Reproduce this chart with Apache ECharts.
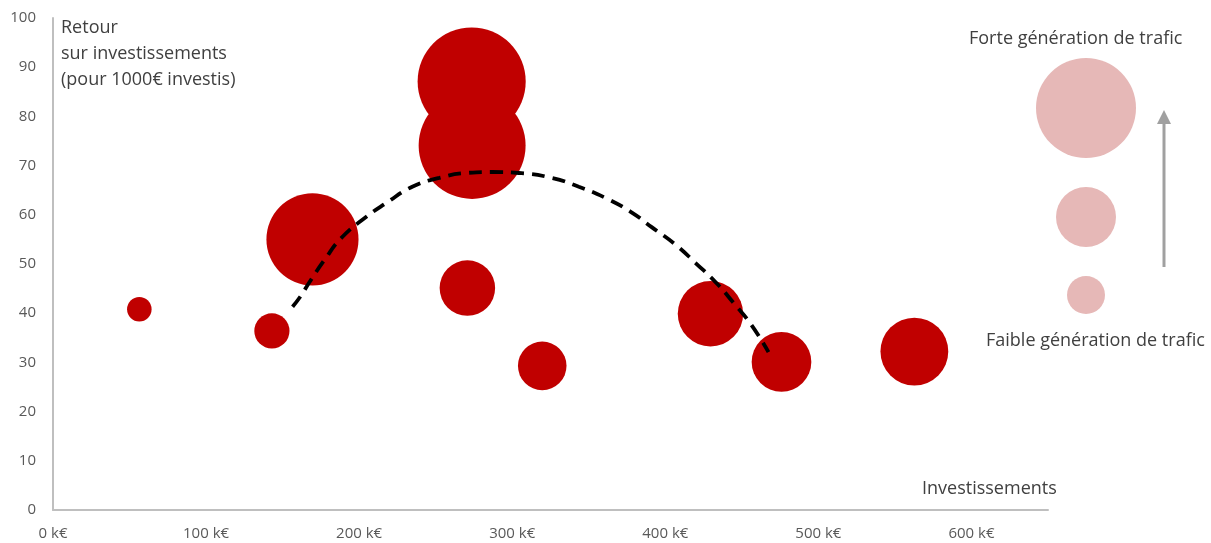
<!DOCTYPE html>
<html>
<head>
<meta charset="utf-8">
<script src="https://cdn.jsdelivr.net/npm/echarts@6/dist/echarts.min.js"></script>
<style>
  html, body { margin: 0; padding: 0; background: #fff; }
  #chart { width: 1211px; height: 543px; }
</style>
</head>
<body>
<div id="chart"></div>
<script>
// Investissement (k€), retour pour 1000 € investis, génération de trafic (taille de bulle)
const investissements = [56.4, 143, 169.5, 273.5, 273.8, 270.7, 319.6, 429.5, 475.9, 562.7];
const retours = [40.8, 36.4, 55.0, 87.1, 74.1, 45.1, 29.3, 39.9, 30.1, 32.2];
const trafic = [15, 31, 212, 292, 286, 77, 59, 107, 89, 115];

// Courbe de tendance (pointillés)
const tendanceX = [156.5, 162.3, 167.5, 177.3, 188.4, 204.7, 217.7, 234.7, 252.3, 269.9, 286.8,
  304.4, 325.9, 343.5, 361.1, 377.4, 391.1, 406.8, 419.8, 433.5, 444.6, 456.3, 467.4];
const tendanceY = [41.3, 43.7, 46.3, 50.8, 55.3, 59.6, 62.4, 65.7, 67.5, 68.5, 68.7,
  68.5, 67.5, 65.7, 63.4, 60.6, 57.5, 53.9, 50.2, 46.1, 42.1, 37.6, 32.1];

// Graduations
const xTicks = [0, 100, 200, 300, 400, 500, 600];
const yTicks = [0, 10, 20, 30, 40, 50, 60, 70, 80, 90, 100];

const FONT = '"Open Sans", Lato, sans-serif';
const RED = '#c00000';
const PINK = '#e6b8b7';

const bubbles = investissements.map((x, i) => [x, retours[i], trafic[i]]);
const trend = tendanceX.map((x, i) => [x, tendanceY[i]]);

const chart = echarts.init(document.getElementById('chart'));
chart.setOption({
  animation: false,
  backgroundColor: '#fff',
  grid: { left: 53, right: 163, top: 18, bottom: 33, containLabel: false },
  xAxis: {
    type: 'value',
    min: 0, max: 650, interval: 100,
    splitLine: { show: false },
    axisTick: { show: false },
    axisLine: { lineStyle: { color: '#bfbfbf', width: 2 } },
    axisLabel: {
      color: '#595959', fontFamily: FONT, fontSize: 15, margin: 16,
      formatter: v => xTicks.includes(v) ? v + ' k€' : ''
    }
  },
  yAxis: {
    type: 'value',
    min: 0, max: 100, interval: 10,
    splitLine: { show: false },
    axisTick: { show: false },
    axisLine: { show: true, lineStyle: { color: '#bfbfbf', width: 2 } },
    axisLabel: {
      color: '#595959', fontFamily: FONT, fontSize: 15, margin: 17,
      formatter: v => yTicks.includes(v) ? String(v) : ''
    }
  },
  series: [
    {
      type: 'scatter',
      data: bubbles,
      symbolSize: v => 2 * Math.sqrt(v[2] * 10),
      itemStyle: { color: RED, opacity: 1 },
      z: 2
    },
    {
      type: 'line',
      data: trend,
      smooth: true,
      showSymbol: false,
      lineStyle: { color: '#000', width: 3.8, type: [13, 8] },
      z: 3
    }
  ],
  graphic: [
    {
      type: 'text', left: 61, top: 15,
      style: {
        text: 'Retour\nsur investissements\n(pour 1000€ investis)',
        fill: '#404040', font: '18px ' + FONT, lineHeight: 26
      }
    },
    {
      type: 'text', left: 922, top: 480,
      style: { text: 'Investissements', fill: '#404040', font: '18px ' + FONT }
    },
    {
      type: 'text', left: 969, top: 30,
      style: { text: 'Forte génération de trafic', fill: '#404040', font: '18px ' + FONT }
    },
    {
      type: 'text', left: 986, top: 332,
      style: { text: 'Faible génération de trafic', fill: '#404040', font: '18px ' + FONT }
    },
    { type: 'circle', shape: { cx: 1086, cy: 108, r: 50 }, style: { fill: PINK } },
    { type: 'circle', shape: { cx: 1086, cy: 217, r: 30 }, style: { fill: PINK } },
    { type: 'circle', shape: { cx: 1086, cy: 295, r: 19 }, style: { fill: PINK } },
    {
      type: 'line', shape: { x1: 1164, y1: 267, x2: 1164, y2: 120 },
      style: { stroke: '#a0a0a0', lineWidth: 3 }
    },
    {
      type: 'polygon', shape: { points: [[1164, 110], [1157, 124], [1171, 124]] },
      style: { fill: '#a0a0a0' }
    }
  ]
});
</script>
</body>
</html>
